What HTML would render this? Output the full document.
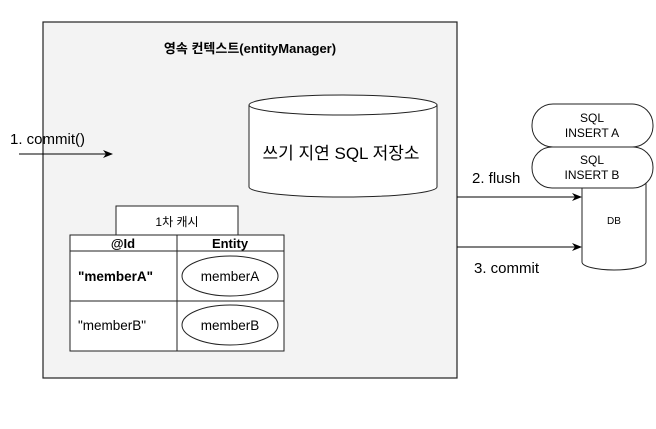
<!DOCTYPE html>
<html><head><meta charset="utf-8"><style>body{margin:0;background:#fff}svg{display:block}</style></head>
<body>
<svg width="656" height="429" xmlns="http://www.w3.org/2000/svg" font-family="'Liberation Sans','Noto Sans CJK KR',sans-serif">
<defs><marker id="a" markerWidth="10" markerHeight="8" refX="9" refY="4" orient="auto" markerUnits="userSpaceOnUse"><path d="M0,0 L10,4 L0,8 L3,4 Z" fill="#000"/></marker></defs>
<rect x="43" y="22" width="414" height="356" fill="#f3f3f3" stroke="#222" stroke-width="1.2"/>
<text x="250" y="53" font-size="13" font-weight="bold" text-anchor="middle">영속 컨텍스트(entityManager)</text>
<path d="M249,105 L249,187 A94,10 0 0 0 437,187 L437,105" fill="#fff" stroke="#222"/>
<ellipse cx="343" cy="105" rx="94" ry="10" fill="#fff" stroke="#222"/>
<text x="341" y="159" font-size="17" text-anchor="middle">쓰기 지연 SQL 저장소</text>
<text x="10" y="144" font-size="15">1. commit()</text>
<line x1="19" y1="154" x2="112" y2="154" stroke="#000" marker-end="url(#a)"/>
<rect x="116" y="206" width="122" height="29" fill="#fff" stroke="#222"/>
<text x="177" y="226" font-size="12" text-anchor="middle">1차 캐시</text>
<rect x="70" y="235" width="214" height="116" fill="#fff" stroke="#222"/>
<line x1="70" y1="251" x2="284" y2="251" stroke="#222"/>
<line x1="70" y1="301" x2="284" y2="301" stroke="#222"/>
<line x1="177" y1="235" x2="177" y2="351" stroke="#222"/>
<text x="123" y="248" font-size="13" font-weight="bold" text-anchor="middle">@Id</text>
<text x="230" y="248" font-size="13" font-weight="bold" text-anchor="middle">Entity</text>
<text x="78" y="281" font-size="13.5" font-weight="bold">"memberA"</text>
<text x="78" y="330" font-size="13.5">"memberB"</text>
<ellipse cx="230" cy="276" rx="48" ry="20" fill="#fff" stroke="#222"/>
<ellipse cx="230" cy="325" rx="48" ry="20" fill="#fff" stroke="#222"/>
<text x="230" y="281" font-size="13.5" text-anchor="middle">memberA</text>
<text x="230" y="330" font-size="13.5" text-anchor="middle">memberB</text>
<path d="M582,180 L582,262 A32,8 0 0 0 646,262 L646,180" fill="#fff" stroke="#222"/>
<text x="614" y="224" font-size="10" text-anchor="middle">DB</text>
<rect x="532" y="104" width="121" height="43" rx="21" fill="#fff" stroke="#222"/>
<text x="592" y="122" font-size="12" text-anchor="middle">SQL</text>
<text x="592" y="137" font-size="12" text-anchor="middle">INSERT A</text>
<rect x="532" y="147" width="121" height="41" rx="20" fill="#fff" stroke="#222"/>
<text x="592" y="164" font-size="12" text-anchor="middle">SQL</text>
<text x="592" y="179" font-size="12" text-anchor="middle">INSERT B</text>
<line x1="457" y1="197" x2="581" y2="197" stroke="#000" marker-end="url(#a)"/>
<line x1="457" y1="247" x2="581" y2="247" stroke="#000" marker-end="url(#a)"/>
<text x="472" y="183" font-size="15">2. flush</text>
<text x="474" y="273" font-size="15">3. commit</text>
</svg>
</body></html>
